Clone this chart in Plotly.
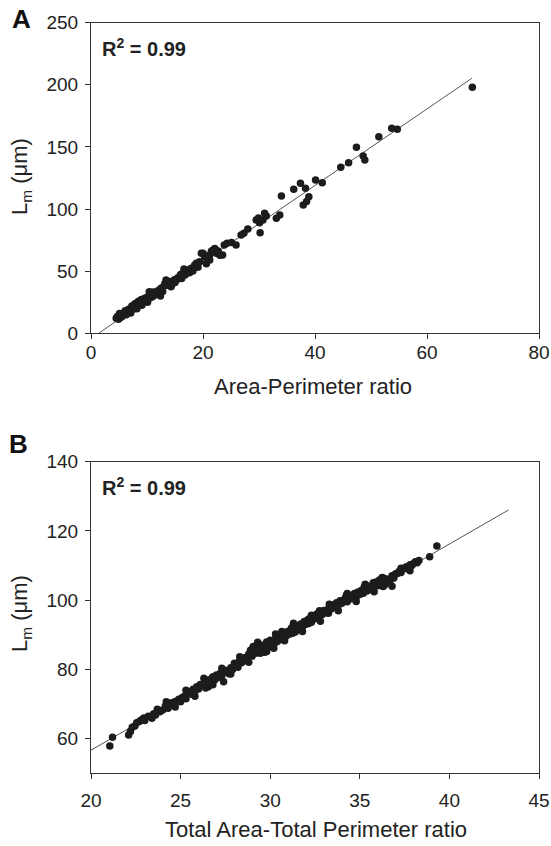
import plotly.graph_objects as go

# ---------------- Panel A data ----------------
a_x = [4.5, 4.7, 4.9, 5.0, 5.2, 5.3, 5.5, 5.7, 5.8, 6.0, 6.2, 6.3, 6.5, 6.7, 6.8, 7.0,
       7.2, 7.3, 7.5, 7.6, 7.8, 8.0, 8.1, 8.3, 8.5, 8.6, 8.9, 9.0, 9.2, 9.4, 9.6, 9.8,
       10.0, 10.2, 10.4, 10.5, 10.7, 10.9, 11.1, 11.3, 11.5, 11.8, 12.0, 12.2, 12.5, 12.8,
       13.0, 13.2, 13.4, 13.6, 13.9, 14.1, 14.3, 14.6, 14.9, 15.2, 15.5, 15.8, 16.0, 16.2,
       16.4, 16.6, 16.8, 17.0, 17.3, 17.6, 17.9, 18.2, 18.5, 18.8, 19.1, 19.4, 19.7, 20.0,
       20.3, 20.6, 20.9, 21.2, 21.2, 21.5, 21.8, 22.1, 22.4, 22.7, 23.0, 23.5, 23.8, 24.3,
       25.1, 25.9, 26.8, 27.3, 28.0, 29.5, 29.9, 30.1, 30.2, 30.7, 31.0, 31.3, 33.1, 33.7,
       34.0, 36.2, 37.4, 37.9, 38.3, 38.5, 38.9, 40.1, 41.3, 44.6, 46.0, 47.4, 48.6, 48.9,
       51.4, 53.7, 54.7, 68.1,
       5.1, 6.1, 7.1, 8.2, 9.1, 10.1, 11.0, 12.4, 14.4, 15.0]
a_y = [12.1, 13.5, 11.3, 14.2, 12.6, 15.0, 13.4, 14.7, 16.2, 15.1, 16.8, 14.9, 17.6, 19.3, 17.0, 18.6,
       20.1, 22.0, 19.4, 21.3, 23.4, 24.1, 21.6, 22.8, 25.7, 23.5, 25.4, 27.2, 24.3, 26.6, 28.3, 25.9,
       29.1, 27.4, 33.5, 30.2, 28.8, 31.7, 29.9, 30.8, 32.6, 33.9, 31.4, 34.9, 36.2, 33.6,
       37.8, 40.1, 42.9, 39.2, 38.4, 41.6, 37.5, 40.3, 43.1, 42.4, 44.8, 45.6, 47.3, 44.2,
       48.3, 51.7, 46.9, 49.6, 51.0, 48.8, 52.4, 50.1, 54.7, 56.3, 53.2, 57.6, 64.4, 64.4,
       61.5, 55.9, 62.3, 59.0, 63.0, 66.1, 67.0, 68.3, 64.4, 66.2, 62.8, 63.0, 71.1, 72.4,
       73.1, 71.1, 79.1, 80.6, 84.0, 91.2, 92.8, 89.0, 81.0, 91.2, 96.6, 94.5, 92.6, 95.2,
       110.5, 115.9, 120.7, 103.3, 116.7, 106.0, 110.0, 123.4, 121.2, 133.6, 137.3, 149.7, 142.7, 139.5,
       158.2, 165.0, 164.2, 198.0,
       15.9, 18.1, 16.4, 19.8, 22.6, 25.0, 33.2, 30.1, 38.9, 40.8]
a_fit = {"slope": 3.08, "intercept": -4.2, "x_from": 1.4, "x_to": 68.0}

# ---------------- Panel B data ----------------
b_x = [21.05, 21.2, 22.1, 22.2, 22.3, 22.45, 22.55, 22.7, 22.8, 22.95, 23.0, 23.2, 23.5, 23.6, 23.85,
       24.0, 24.15, 24.3, 24.45, 24.5, 24.7, 24.9, 25.0, 25.1, 25.2, 25.3, 25.4, 25.5, 25.6, 25.7,
       25.8, 25.9, 26.0, 26.1, 26.2, 26.3, 26.4, 26.5, 26.55, 26.6, 26.7, 26.8, 26.9, 27.0, 27.1,
       27.2, 27.3, 27.35, 27.4, 27.5, 27.6, 27.7, 27.8, 27.9, 28.0, 28.1, 28.2, 28.25, 28.3, 28.4,
       28.5, 28.6, 28.7, 28.8, 28.9, 29.0, 29.05, 29.1, 29.15, 29.2, 29.3, 29.4, 29.45, 29.5, 29.6,
       29.7, 29.8, 29.9, 30.0, 30.1, 30.2, 30.25, 30.3, 30.4, 30.5, 30.6, 30.65, 30.7, 30.8, 30.9,
       31.0, 31.1, 31.2, 31.25, 31.3, 31.4, 31.5, 31.6, 31.7, 31.75, 31.8, 31.9, 32.0, 32.1, 32.15,
       32.2, 32.3, 32.4, 32.5, 32.6, 32.7, 32.75, 32.8, 32.9, 33.0, 33.1, 33.2, 33.25, 33.3, 33.4,
       33.5, 33.6, 33.7, 33.75, 33.8, 33.9, 34.0, 34.1, 34.2, 34.25, 34.3, 34.4, 34.5, 34.65, 34.7,
       34.75, 34.8, 34.9, 35.0, 35.1, 35.2, 35.25, 35.3, 35.4, 35.5, 35.6, 35.7, 35.75, 35.8, 35.9,
       36.0, 36.1, 36.2, 36.25, 36.3, 36.4, 36.5, 36.6, 36.7, 36.8, 36.9, 37.0, 37.1, 37.2, 37.3,
       37.4, 37.5, 37.6, 37.7, 37.8, 37.9, 38.0, 38.1, 38.2, 38.3, 38.9, 39.3,
       23.4, 23.7, 24.2, 24.7, 25.3, 25.8, 26.3, 26.8, 27.3, 27.8, 28.3, 28.8, 29.3, 29.8, 30.3,
       30.8, 31.3, 31.8, 32.3, 32.8, 33.3, 33.8, 34.3, 34.8, 35.3, 35.8, 36.3, 36.8, 37.3, 37.8]
b_y = [57.8, 60.3, 61.0, 62.0, 63.2, 63.6, 64.5, 64.9, 65.3, 65.9, 65.2, 66.4, 67.1, 66.8, 67.7,
       68.2, 69.4, 68.7, 69.6, 70.3, 70.7, 71.3, 70.6, 71.8, 72.1, 71.5, 73.0, 73.5, 72.8, 74.2,
       73.7, 74.9, 74.3, 75.6, 75.4, 75.9, 74.6, 76.8, 74.9, 76.4, 77.2, 77.8, 76.9, 78.3, 77.6,
       78.8, 78.1, 79.9, 76.4, 79.6, 79.3, 78.7, 80.4, 79.9, 81.7, 81.2, 80.6, 82.0, 82.3, 81.9,
       82.8, 83.4, 82.6, 84.3, 85.5, 83.8, 86.6, 85.1, 85.9, 84.6, 86.2, 87.1, 84.6, 85.7, 86.9,
       84.9, 87.9, 86.4, 88.4, 87.3, 86.1, 87.6, 88.9, 88.0, 89.4, 89.9, 90.9, 88.6, 90.5, 89.6,
       91.0, 90.2, 92.0, 90.4, 91.8, 90.8, 92.6, 91.6, 93.1, 92.0, 92.3, 93.8, 93.0, 94.3, 93.2,
       94.7, 93.6, 95.3, 94.6, 96.0, 95.1, 96.9, 96.5, 95.8, 97.0, 96.3, 97.1, 96.2, 98.0, 97.4,
       98.6, 97.9, 99.2, 98.1, 98.5, 99.8, 99.1, 100.0, 100.6, 101.4, 99.5, 101.1, 100.4, 101.0, 101.9,
       100.2, 100.9, 102.3, 101.6, 102.8, 102.0, 103.8, 103.3, 102.6, 104.0, 103.8, 103.0, 105.0, 104.6, 105.2,
       104.1, 105.8, 104.9, 106.5, 103.9, 104.4, 106.1, 105.2, 105.8, 107.0, 106.4, 107.6, 107.7, 108.3, 108.0,
       108.9, 109.3, 109.6, 109.0, 110.2, 110.0, 110.6, 111.1, 110.8, 111.4, 112.5, 115.6,
       65.8, 68.4, 70.6, 69.1, 73.9, 72.2, 77.4, 75.5, 80.3, 78.6, 83.6, 82.0, 87.8, 85.1, 90.2,
       88.2, 93.3, 90.9, 95.6, 93.9, 98.8, 96.9, 101.9, 99.6, 104.6, 102.4, 106.4, 104.0, 109.2, 108.5]
b_fit = {"slope": 2.98, "intercept": -3.0, "x_from": 20.0, "x_to": 43.3}

a_xticks = [0, 20, 40, 60, 80]
a_yticks = [0, 50, 100, 150, 200, 250]
b_xticks = [20, 25, 30, 35, 40, 45]
b_yticks = [60, 80, 100, 120, 140]

W, H = 551, 846


def px(x):
    return x / W


def py(y):
    return 1 - y / H


FONT = "Liberation Sans, Arial, sans-serif"
DOT = "#1c1c1c"
LINE = "#555555"

fig = go.Figure()

for fit, xa, ya in [(a_fit, "x", "y"), (b_fit, "x2", "y2")]:
    xs = [fit["x_from"], fit["x_to"]]
    ys = [fit["slope"] * v + fit["intercept"] for v in xs]
    fig.add_trace(go.Scatter(x=xs, y=ys, mode="lines", xaxis=xa, yaxis=ya,
                             line=dict(color=LINE, width=1), showlegend=False,
                             hoverinfo="skip"))

fig.add_trace(go.Scatter(x=a_x, y=a_y, mode="markers", xaxis="x", yaxis="y",
                         marker=dict(color=DOT, size=7.5, line=dict(width=0)),
                         showlegend=False))
fig.add_trace(go.Scatter(x=b_x, y=b_y, mode="markers", xaxis="x2", yaxis="y2",
                         marker=dict(color=DOT, size=7.5, line=dict(width=0)),
                         showlegend=False))

axis_common = dict(showline=True, linecolor="#333333", linewidth=1, mirror=True,
                   ticks="outside", ticklen=5, tickwidth=1, tickcolor="#333333",
                   showgrid=False, zeroline=False, automargin=False,
                   tickfont=dict(family=FONT, size=19, color="#222222"))

x_dom = [px(91), px(539)]
fig.update_layout(
    width=W, height=H,
    margin=dict(l=0, r=0, t=0, b=0, autoexpand=False),
    paper_bgcolor="white", plot_bgcolor="white",
    xaxis=dict(domain=x_dom, range=[0, 80], tickvals=a_xticks, anchor="y",
               ticklabelstandoff=-3, **axis_common),
    yaxis=dict(domain=[py(333.3), py(22.7)], range=[0, 250], tickvals=a_yticks,
               anchor="x", ticklabelstandoff=3, **axis_common),
    xaxis2=dict(domain=x_dom, range=[20, 45], tickvals=b_xticks, anchor="y2",
                ticklabelstandoff=5, **axis_common),
    yaxis2=dict(domain=[py(773), py(461.7)], range=[50, 140], tickvals=b_yticks,
                anchor="x2", ticklabelstandoff=3, **axis_common),
)

ann = []
title_font = dict(family=FONT, size=22, color="#222222")
ann.append(dict(text="Area-Perimeter ratio", x=px(313), y=py(386), xref="paper",
                yref="paper", showarrow=False, font=title_font,
                xanchor="center", yanchor="middle"))
ann.append(dict(text="Total Area-Total Perimeter ratio", x=px(316), y=py(829),
                xref="paper", yref="paper", showarrow=False, font=title_font,
                xanchor="center", yanchor="middle"))
for yc in (177, 614):
    ann.append(dict(text="L<sub>m</sub> (μm)", x=px(21), y=py(yc), xref="paper",
                    yref="paper", showarrow=False, font=title_font, textangle=-90,
                    xanchor="center", yanchor="middle"))
for yc in (48, 486):
    ann.append(dict(text="<b>R<sup>2</sup> = 0.99</b>", x=px(100), y=py(yc),
                    xref="paper", yref="paper", showarrow=False,
                    font=dict(family=FONT, size=20, color="#222222"),
                    xanchor="left", yanchor="middle"))
ann.append(dict(text="<b>A</b>", x=px(21), y=py(19), xref="paper", yref="paper",
                showarrow=False, font=dict(family=FONT, size=26, color="#111111"),
                xanchor="center", yanchor="middle"))
ann.append(dict(text="<b>B</b>", x=px(18), y=py(444), xref="paper", yref="paper",
                showarrow=False, font=dict(family=FONT, size=26, color="#111111"),
                xanchor="center", yanchor="middle"))
fig.update_layout(annotations=ann)

# remove the page's default body margin so the figure sits at the window origin
reset_page = ("document.body.style.margin='0';"
              "document.body.style.overflow='hidden';"
              "document.documentElement.style.overflow='hidden';")
fig.write_html("out.html", post_script=reset_page,
               config={"displayModeBar": False, "staticPlot": True})
